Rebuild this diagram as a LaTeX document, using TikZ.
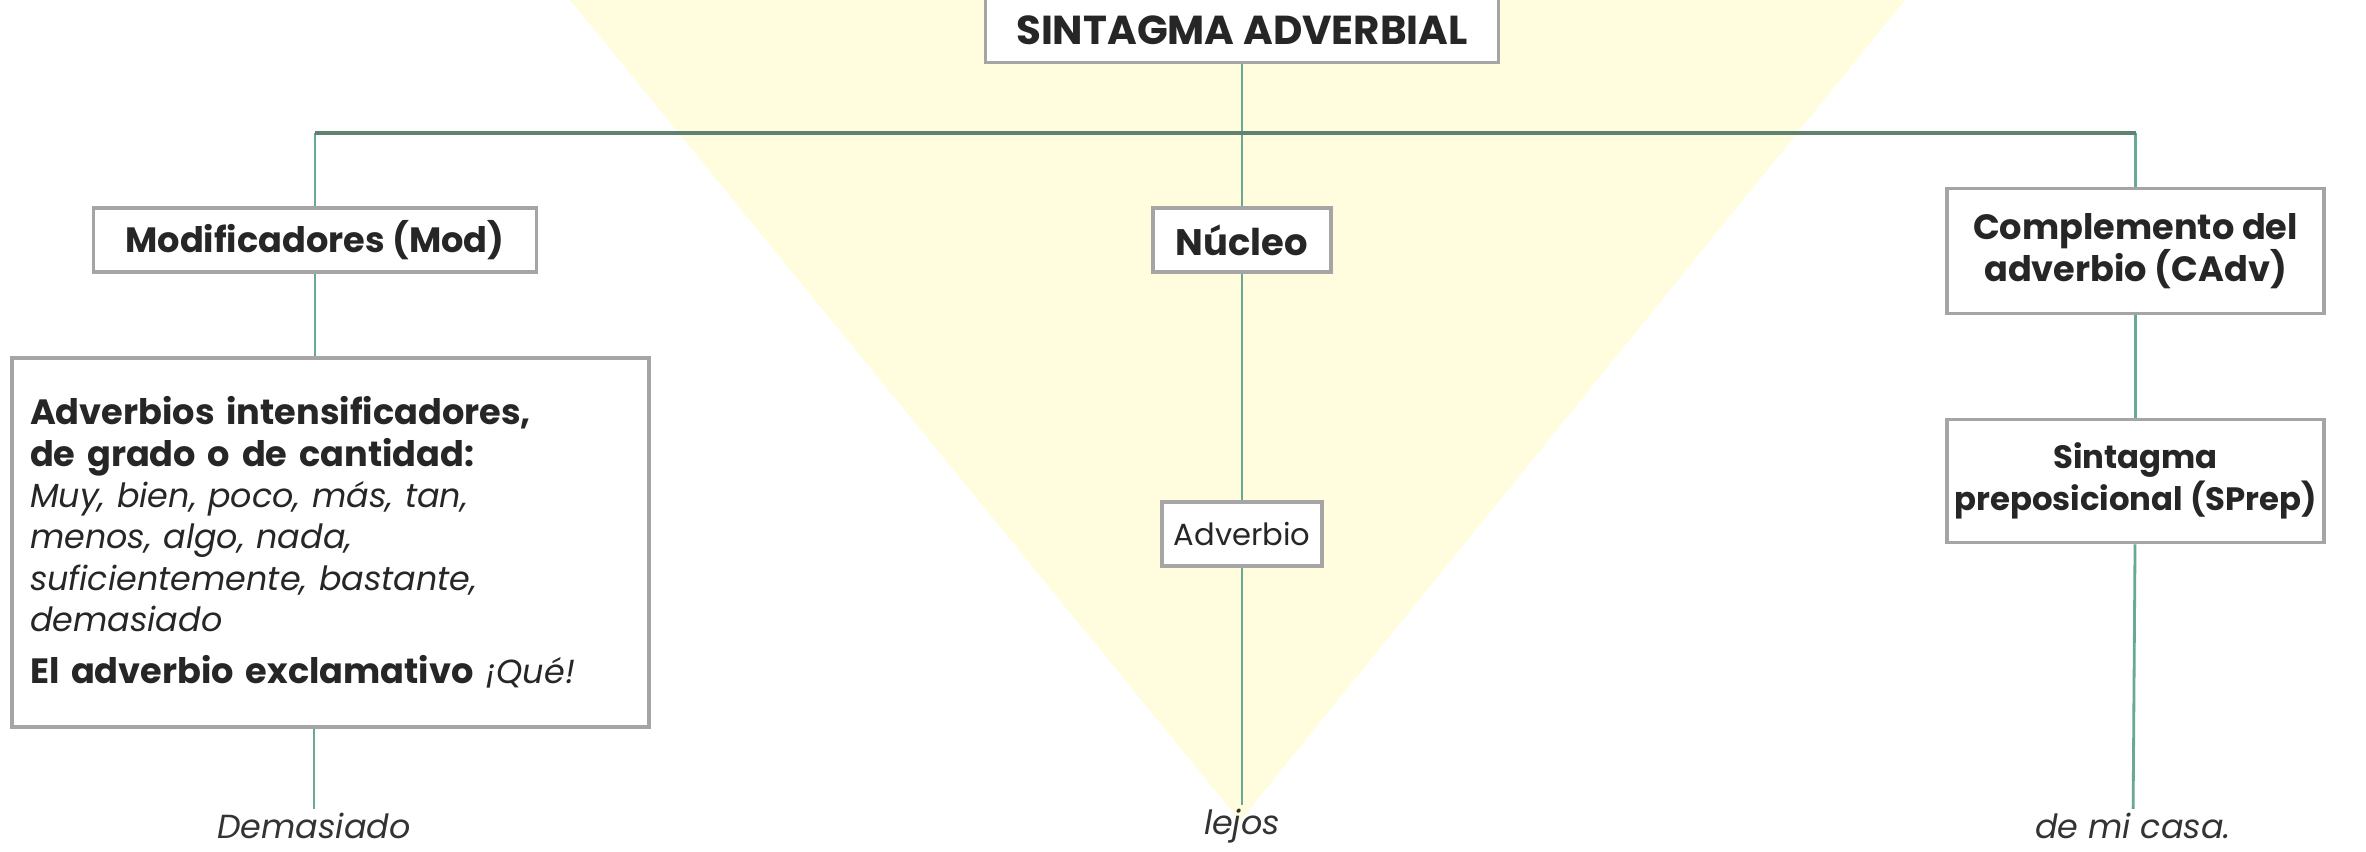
\documentclass[tikz,border=0pt]{standalone}
\usepackage{fontspec}
\setmainfont{Poppins}
\usepackage{tikz}
\usetikzlibrary{positioning}
\definecolor{trifill}{RGB}{255,253,222}
\definecolor{linkc}{RGB}{104,168,150}
\definecolor{barc}{RGB}{96,130,112}
\definecolor{boxline}{RGB}{165,165,165}

\begin{document}
\begin{tikzpicture}[x=1cm,y=1cm]
  \tikzset{
    box/.style={draw=boxline, fill=white, line width=1pt, inner sep=0pt, align=center, text=black!85, font=\fontsize{10}{11.8}\selectfont\bfseries},
    link/.style={linkc, line width=0.8pt},
    bar/.style={barc, line width=0.9pt},
    word/.style={inner sep=1pt, text=black!80, font=\fontsize{9.5}{11}\selectfont\itshape}
  }

  \useasboundingbox (0,0) rectangle (23.66,8.51);

  % column positions
  \def\xL{3.14}
  \def\xC{12.42}
  \def\xR{21.33}

  % yellow wedge behind the middle column
  \fill[trifill] (5.70,8.51) -- (19.05,8.51) -- (12.40,0.30) -- cycle;

  % top
  \node[box, minimum width=5.13cm, minimum height=0.65cm, font=\fontsize{11.5}{12}\selectfont\bfseries] (sa) at (\xC,8.21) {SINTAGMA ADVERBIAL};
  \coordinate (bar) at (\xC,7.18);

  % second row
  \node[box, minimum width=4.43cm, minimum height=0.64cm] (mod) at (3.15,6.11) {Modificadores (Mod)};
  \node[box, minimum width=1.78cm, minimum height=0.64cm, font=\fontsize{10.5}{12}\selectfont\bfseries] (nuc) at (\xC,6.11) {Núcleo};
  \node[box, minimum width=3.77cm, minimum height=1.25cm] (comp) at (21.355,6.0) {Complemento del\\adverbio (CAdv)};

  % third row
  \node[box, align=left, inner xsep=0.18cm, text width=6.01cm, minimum height=3.69cm, font=\fontsize{10}{11.8}\selectfont] (ints) at (3.305,3.085)
    {\textbf{Adverbios intensificadores,}\\
     \textbf{de grado o de cantidad:}\\
     {\fontsize{9.5}{11.8}\selectfont\itshape Muy, bien, poco, más, tan,\\
     menos, algo, nada,\\
     suficientemente, bastante,\\
     demasiado}\\[3pt]
     \textbf{El adverbio exclamativo} {\fontsize{9.5}{11.8}\selectfont\itshape ¡Qué!}};
  \node[box, minimum width=1.6cm, minimum height=0.64cm, font=\fontsize{8.7}{11}\selectfont] (advb) at (\xC,3.17) {Adverbio};
  \node[box, minimum width=3.77cm, minimum height=1.23cm, font=\fontsize{9.2}{11.8}\selectfont\bfseries] (sprep) at (21.355,3.70) {Sintagma\\preposicional (SPrep)};

  % example words
  \node[word] (dem) at (\xL,0.25) {Demasiado};
  \node[word] (lej) at (\xC,0.25) {lejos};
  \node[word] (casa) at (\xR,0.25) {de mi casa.};

  % connectors
  \draw[link] (sa) -- (nuc);
  \draw[link] (mod.north) -- (mod.north |- bar);
  \draw[link] (comp.north) -- (comp.north |- bar);
  \draw[bar] (mod.north |- bar) -- (comp.north |- bar);

  \draw[link] (mod.south) -- (mod.south |- ints.north);
  \draw[link] (dem.north |- ints.south) -- (dem);
  \draw[link] (nuc) -- (advb);
  \draw[link] (advb) -- (lej);
  \draw[link] (comp) -- (sprep);
  \draw[link] (sprep) -- (casa);
\end{tikzpicture}
\end{document}
